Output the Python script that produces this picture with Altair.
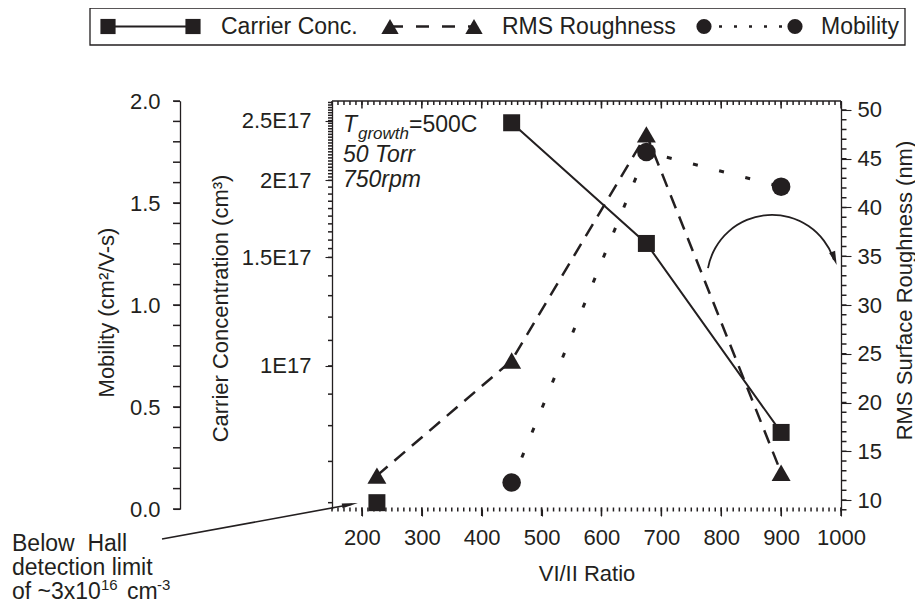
import altair as alt
import pandas as pd

# ---------------- data ----------------
vi_ii_ratio = [225, 450, 675, 900]
carrier_conc = [6.0e16, 2.48e17, 1.58e17, 7.8e16]     # cm^-3 (first point: below Hall limit)
above_hall_limit = [False, True, True, True]
rms_roughness = [12.5, 24.3, 47.5, 12.8]               # nm
mobility = [None, 0.13, 1.75, 1.58]                    # cm^2/V-s

x_major_ticks = [200, 300, 400, 500, 600, 700, 800, 900, 1000]
x_minor_ticks = list(range(150, 1001, 10))
carrier_major_ticks = [1.0e17, 1.5e17, 2.0e17, 2.5e17]
carrier_minor_ticks = ([v * 1e16 for v in range(6, 15)]
                       + [v * 5e15 for v in range(30, 40)]
                       + [v * 2.5e15 for v in range(80, 108)])
rms_major_ticks = [10, 15, 20, 25, 30, 35, 40, 45, 50]
rms_minor_ticks = list(range(9, 51))
mobility_major_ticks = [0.0, 0.5, 1.0, 1.5, 2.0]
mobility_minor_ticks = [round(0.1 * i, 1) for i in range(21)]

legend_labels = ["Carrier Conc.", "RMS Roughness", "Mobility"]

# ---------------- styling ----------------
FONT = "Liberation Sans"
INK = "#231f20"
W, H = 509, 408

df = pd.DataFrame({
    "ratio": vi_ii_ratio,
    "carrier": carrier_conc,
    "measured": above_hall_limit,
    "rms": rms_roughness,
    "mobility": mobility,
})
one = pd.DataFrame({"k": [0]})
base = alt.Chart(df)

XS = alt.Scale(domain=[150, 1000], nice=False, zero=False)
CAR = alt.Scale(type="log", domain=[5.86e16, 2.69e17], nice=False)
RMS = alt.Scale(domain=[9.08, 50.92], nice=False, zero=False)
MOB = alt.Scale(domain=[0, 2], nice=False, zero=False)


def xe():
    return alt.X("ratio:Q", scale=XS, axis=None)


# ---------------- series ----------------
car_line = base.transform_filter("datum.measured").mark_line(
    color=INK, strokeWidth=2).encode(
    x=xe(), y=alt.Y("carrier:Q", scale=CAR, axis=None))
car_pts = base.mark_point(shape="square", filled=True, size=289, color=INK, opacity=1).encode(
    x=xe(), y=alt.Y("carrier:Q", scale=CAR, axis=None))

rms_line = base.mark_line(color=INK, strokeWidth=2.5, strokeDash=[14, 9]).encode(
    x=xe(), y=alt.Y("rms:Q", scale=RMS, axis=None))
rms_pts = base.mark_point(shape="triangle-up", filled=True, size=360, color=INK, opacity=1).encode(
    x=xe(), y=alt.Y("rms:Q", scale=RMS, axis=None))

mob_line = base.transform_filter("isValid(datum.mobility)").mark_line(
    color=INK, strokeWidth=3, strokeDash=[5, 22]).encode(
    x=xe(), y=alt.Y("mobility:Q", scale=MOB, axis=None))
mob_pts = base.transform_filter("isValid(datum.mobility)").mark_point(
    shape="circle", filled=True, size=346, color=INK, opacity=1).encode(
    x=xe(), y=alt.Y("mobility:Q", scale=MOB, axis=None))

carrier_layer = alt.layer(car_line, car_pts)
rms_layer = alt.layer(rms_line, rms_pts)
mob_layer = alt.layer(mob_line, mob_pts)


# ---------------- labelled axes (each in its own invisible layer) ----------------
def x_axis(**kw):
    return base.mark_point(opacity=0).encode(
        x=alt.X("ratio:Q", scale=XS, axis=alt.Axis(**kw)))


def y_axis(field, scale, **kw):
    return base.mark_point(opacity=0).encode(
        y=alt.Y(field + ":Q", scale=scale, axis=alt.Axis(**kw)))


ax_x = x_axis(orient="bottom", values=x_major_ticks, tickSize=7, ticks=True, labels=True,
              format="d", domain=False, labelPadding=11, title="VI/II Ratio",
              titleX=W / 2, titleY=71, titleAlign="center", titleBaseline="alphabetic")

ax_car = y_axis("carrier", CAR, orient="left", values=carrier_major_ticks, tickSize=7,
                ticks=True, labelPadding=14,
                labelExpr="round(datum.value / 1e16) / 10 + 'E17'",
                domain=True, title="Carrier Concentration (cm³)",
                titleX=-105, titleY=207, titleAngle=270, titleAlign="center",
                titleBaseline="alphabetic")

ax_rms = y_axis("rms", RMS, orient="right", values=rms_major_ticks, tickSize=10,
                ticks=True, labelPadding=6, domain=True,
                title="RMS Surface Roughness (nm)",
                titleX=70, titleY=189, titleAngle=270, titleAlign="center",
                titleBaseline="alphabetic")

ax_mob = y_axis("mobility", MOB, orient="left", offset=152, values=mobility_major_ticks,
                tickSize=7, ticks=True, labelPadding=13, format=".1f",
                domain=True, title="Mobility (cm²/V-s)",
                titleX=-67, titleY=211, titleAngle=270, titleAlign="center",
                titleBaseline="alphabetic")


# ---------------- minor ticks, placed through the same scales ----------------
TW = 1.5


def x_ticks(values, y1, y2):
    return alt.Chart(pd.DataFrame({"v": values})).mark_rule(color=INK, strokeWidth=TW).encode(
        x=alt.X("v:Q", scale=XS, axis=None), x2=alt.X2("v"),
        y=alt.value(y1), y2=alt.value(y2))


def y_ticks(values, scale, x1, x2):
    return alt.Chart(pd.DataFrame({"v": values})).mark_rule(color=INK, strokeWidth=TW).encode(
        y=alt.Y("v:Q", scale=scale, axis=None), y2=alt.Y2("v"),
        x=alt.value(x1), x2=alt.value(x2))


tick_layers = [
    x_ticks(x_minor_ticks, H - 1.5, H + 2.5),      # bottom (dotted look)
    x_ticks(x_major_ticks, H - 1.5, H + 7),
    x_ticks(x_minor_ticks, 0, 4),                  # top, pointing inward
    x_ticks(x_major_ticks, 0, 7.5),
    y_ticks(carrier_minor_ticks, CAR, -4, 0),
    y_ticks(rms_minor_ticks, RMS, W, W + 5.5),
    y_ticks(mobility_minor_ticks, MOB, -152 - 7, -152),
    alt.Chart(one).mark_rule(color=INK, strokeWidth=1.3).encode(
        x=alt.value(0), x2=alt.value(W), y=alt.value(0), y2=alt.value(0)),
]


# ---------------- annotations ----------------
def txt(s, x, y, size=22, style="normal", align="left", baseline="alphabetic"):
    return alt.Chart(one).mark_text(font=FONT, fontSize=size, fontStyle=style, color=INK,
                                    align=align, baseline=baseline).encode(
        x=alt.value(x), y=alt.value(y), text=alt.value(s))


cond = [
    txt("T", 11, 31, 23, "italic"),
    txt("growth", 26, 38, 17, "italic"),
    txt("=500C", 77, 31, 23),
    txt("50 Torr", 11, 61, 23, "italic"),
    txt("750rpm", 11, 86, 23, "italic"),
]

hall = [
    txt("Below\u00a0 Hall", -320, 450, 23),
    txt("detection limit", -320, 474, 23),
    txt("of ~3x10", -320, 498, 23),
    txt("16", -231, 489, 15),
    txt("cm", -205, 498, 23),
    txt("-3", -175, 489, 15),
]

ARROW = "M-1,-0.3L1,0L-1,0.3Z"
leader = alt.Chart(one).mark_rule(color=INK, strokeWidth=1.6).encode(
    x=alt.value(-170), y=alt.value(438), x2=alt.value(20), y2=alt.value(403.3))
leader_head = alt.Chart(one).mark_point(shape=ARROW, filled=True, size=256, color=INK,
                                         opacity=1, angle=349.6).encode(
    x=alt.value(18), y=alt.value(403.5))

curve = alt.Chart(one).mark_arc(color=INK).encode(
    x=alt.value(440), y=alt.value(179),
    theta=alt.value(4.896), theta2=alt.value(7.54),
    radius=alt.value(66), radius2=alt.value(64.2))
curve_head = alt.Chart(one).mark_point(shape="M-1,-0.45L1,0L-1,0.45Z", filled=True, size=196,
                                        color=INK, opacity=1, angle=71).encode(
    x=alt.value(502.4), y=alt.value(157.5))

# ---------------- legend box ----------------
LY = -74.5
LF = 23


def lpt(shape, x, size):
    return alt.Chart(one).mark_point(shape=shape, filled=True, size=size, color=INK,
                                     opacity=1).encode(x=alt.value(x), y=alt.value(LY))


def lrule(x1, x2, width, dash=None):
    kw = dict(color=INK, strokeWidth=width)
    if dash:
        kw["strokeDash"] = dash
    return alt.Chart(one).mark_rule(**kw).encode(
        x=alt.value(x1), x2=alt.value(x2), y=alt.value(LY), y2=alt.value(LY))


legend = [
    alt.Chart(one).mark_rect(fill="white", stroke=INK, strokeWidth=1.3).encode(
        x=alt.value(-242), x2=alt.value(573), y=alt.value(-93), y2=alt.value(-56)),
    lrule(-224, -139, 2), lpt("square", -224, 230), lpt("square", -139, 230),
    txt(legend_labels[0], -111, LY, LF, baseline="middle"),
    lrule(58, 142, 2.5, [13, 13]), lpt("triangle-up", 58, 300), lpt("triangle-up", 142, 300),
    txt(legend_labels[1], 170, LY, LF, baseline="middle"),
    lrule(372, 463, 2.5, [3, 12]), lpt("circle", 372, 230), lpt("circle", 463, 230),
    txt(legend_labels[2], 489, LY, LF, baseline="middle"),
]

chart = alt.layer(
    *tick_layers, ax_x, ax_car, ax_rms, ax_mob,
    carrier_layer, rms_layer, mob_layer,
    *cond, *hall, leader, leader_head, curve, curve_head, *legend,
).resolve_scale(y="independent").resolve_axis(x="independent", y="independent").properties(
    width=W, height=H,
    padding={"left": 324, "top": 93, "right": 74, "bottom": 96},
    autosize=alt.AutoSizeParams(type="none"),
).configure_view(stroke=None).configure_axis(
    labelFont=FONT, titleFont=FONT, labelFontSize=22, titleFontSize=22,
    labelColor=INK, titleColor=INK, tickColor=INK, domainColor=INK,
    titleFontWeight="normal", grid=False, tickWidth=1.1, domainWidth=1.3,
    labelFlush=False, labelOverlap=False, labelBound=False,
)

chart.save("out.html", embed_options={"renderer": "svg", "actions": False})
